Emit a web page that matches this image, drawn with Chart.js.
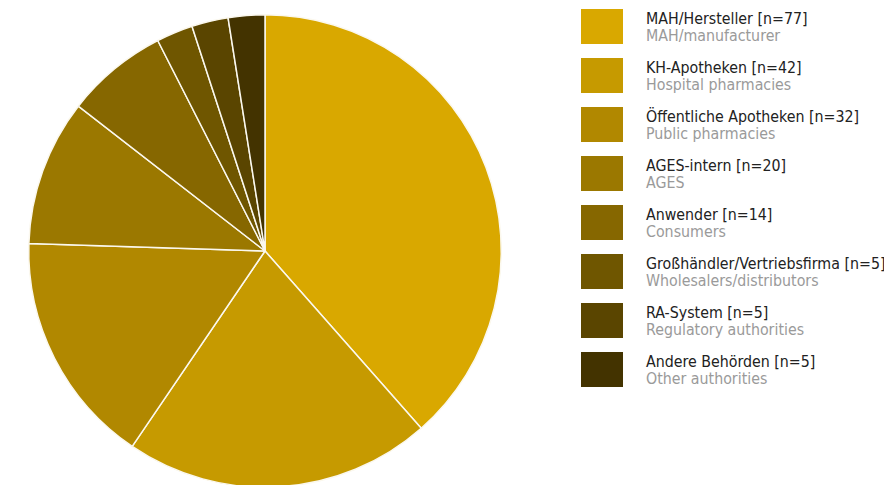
<!DOCTYPE html>
<html>
<head>
<meta charset="utf-8">
<script src="https://cdn.jsdelivr.net/npm/chart.js@4/dist/chart.umd.min.js"></script>
<style>
  html, body { margin: 0; padding: 0; background: #fff; overflow: hidden; }
  #wrap { position: relative; width: 884px; height: 485px; overflow: hidden; }
  #pie { position: absolute; left: 26px; top: 12px; }
  #legend { position: absolute; left: 581px; top: 9px; font-family: Tahoma, "DejaVu Sans Condensed", "Liberation Sans", sans-serif; }
  .item { position: relative; height: 49px; }
  .box { position: absolute; left: 0; top: 0; width: 42px; height: 35px; }
  .txt { position: absolute; left: 65px; top: 1px; white-space: nowrap; }
  .de { font-size: 15.8px; color: #222; line-height: 17px; }
  .en { font-size: 15.8px; color: #9a9a9a; line-height: 17px; }
</style>
</head>
<body>
<div id="wrap">
  <canvas id="pie" width="478" height="478"></canvas>
  <div id="legend"></div>
</div>
<script>
const labelsDe = ['MAH/Hersteller', 'KH-Apotheken', 'Öffentliche Apotheken', 'AGES-intern', 'Anwender',
  'Großhändler/Vertriebsfirma', 'RA-System', 'Andere Behörden'];
const labelsEn = ['MAH/manufacturer', 'Hospital pharmacies', 'Public pharmacies', 'AGES', 'Consumers',
  'Wholesalers/distributors', 'Regulatory authorities', 'Other authorities'];
const counts = [77, 42, 32, 20, 14, 5, 5, 5];
const colors = ['#d9a800', '#c69a00', '#b18800', '#9b7800', '#866700', '#6f5600', '#5a4500', '#433300'];

// legend on the right, two lines per entry
const legend = document.getElementById('legend');
labelsDe.forEach((de, i) => {
  const row = document.createElement('div');
  row.className = 'item';
  row.innerHTML = '<div class="box" style="background:' + colors[i] + '"></div>' +
    '<div class="txt"><div class="de">' + de + ' [n=' + counts[i] + ']</div>' +
    '<div class="en">' + labelsEn[i] + '</div></div>';
  legend.appendChild(row);
});

new Chart(document.getElementById('pie').getContext('2d'), {
  type: 'pie',
  data: {
    labels: labelsDe,
    datasets: [{
      data: counts,
      backgroundColor: colors,
      borderColor: '#fbf8ee',
      borderWidth: 1.5
    }]
  },
  options: {
    responsive: false,
    animation: false,
    layout: { padding: 2 },
    plugins: {
      legend: { display: false },
      tooltip: { enabled: false }
    }
  }
});
</script>
</body>
</html>
